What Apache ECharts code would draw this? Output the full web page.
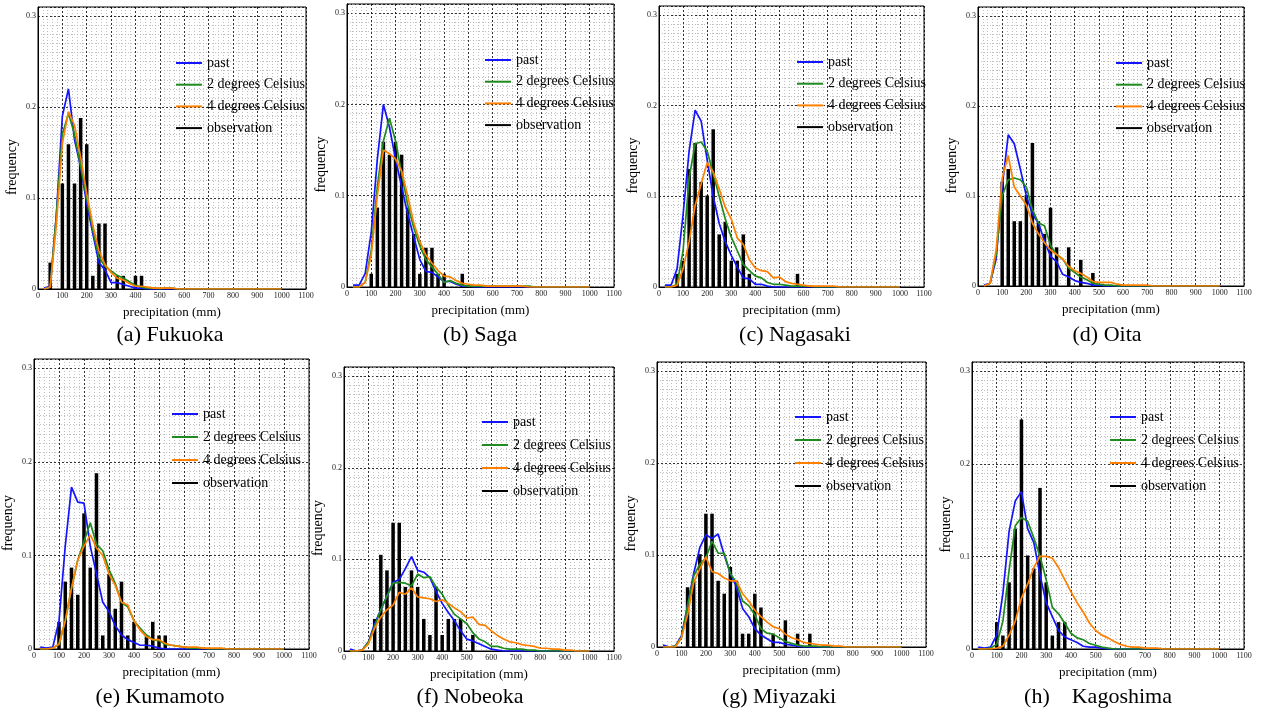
<!DOCTYPE html>
<html>
<head>
<meta charset="utf-8">
<script src="https://cdn.jsdelivr.net/npm/echarts@6/dist/echarts.min.js"></script>
<style>html,body{margin:0;padding:0;background:#fff;}#c{width:1261px;height:711px;}</style>
</head>
<body>
<div id="c"></div>
<script>
// precipitation bin centres (mm)
const BINS = [25,50,75,100,125,150,175,200,
  225,250,275,300,325,350,375,400,
  425,450,475,500,525,550,575,600,
  625,650,675,700,725,750,775,800,
  825,850,875,900,925,950,975,1000];

const panelNames = ['(a) Fukuoka','(b) Saga','(c) Nagasaki','(d) Oita','(e) Kumamoto','(f) Nobeoka','(g) Miyazaki','(h)    Kagoshima'];
const seriesNames = ['past','2 degrees Celsius','4 degrees Celsius','observation'];
const xTicks = [0,100,200,300,400,500,600,700,800,900,1000,1100];
const yTicks = [0,0.1,0.2,0.3];

// ---- (a) Fukuoka
const pastA = [0.001,0.003,0.08,0.19,0.22,0.164,0.134,0.094,
  0.061,0.029,0.021,0.007,0.007,0.005,0.003,0.001,
  0.001,0,0,0,0,0,0,0, 0,0,0,0,0,0,0,0, 0,0,0,0,0,0,0,0];
const deg2A = [0,0.002,0.08,0.17,0.193,0.17,0.135,0.1,
  0.065,0.035,0.025,0.02,0.015,0.012,0.008,0.004,
  0.002,0.001,0.001,0.0005,0.001,0.001,0,0, 0,0,0,0,0,0,0,0, 0,0,0,0,0,0,0,0];
const deg4A = [0,0.002,0.07,0.16,0.195,0.18,0.145,0.105,
  0.07,0.042,0.027,0.018,0.012,0.01,0.006,0.003,
  0.003,0.002,0.001,0.001,0.001,0.001,0,0, 0,0,0,0,0,0,0,0, 0,0,0,0,0,0,0,0];
const obsA = [[50,0.029],[100,0.116],[125,0.159],[150,0.116],[175,0.188],[200,0.159],[225,0.0145],[250,0.072],[275,0.072],[325,0.0145],[350,0.0145],[400,0.0145],[425,0.0145]];

// ---- (b) Saga
const pastB = [0.002,0.002,0.015,0.06,0.14,0.2,0.175,0.14,
  0.11,0.08,0.055,0.03,0.017,0.016,0.011,0.006,
  0.006,0.003,0.001,0.001,0,0,0,0, 0,0,0,0,0,0,0,0, 0,0,0,0,0,0,0,0];
const deg2B = [0,0,0.005,0.04,0.11,0.16,0.185,0.16,
  0.125,0.09,0.065,0.045,0.03,0.022,0.014,0.005,
  0.007,0.004,0.002,0.001,0.001,0.001,0.001,0.001,
  0.001,0.001,0.001,0.001,0.001,0.001,0,0, 0,0,0,0,0,0,0,0];
const deg4B = [0,0,0.005,0.035,0.1,0.15,0.146,0.14,
  0.127,0.1,0.07,0.05,0.035,0.026,0.018,0.012,
  0.011,0.007,0.004,0.003,0.002,0.002,0.001,0.001,
  0.001,0.001,0.001,0.001,0.001,0,0,0, 0,0,0,0,0,0,0,0];
const obsB = [[100,0.0145],[125,0.087],[150,0.159],[175,0.145],[200,0.159],[225,0.145],[250,0.087],[275,0.058],[300,0.0145],[325,0.043],[350,0.043],[375,0.0145],[400,0.0145],[475,0.0145]];

// ---- (c) Nagasaki
const pastC = [0.002,0.002,0.02,0.08,0.15,0.195,0.183,0.14,
  0.1,0.07,0.05,0.035,0.022,0.01,0.009,0.003,
  0.003,0.001,0,0,0,0,0,0, 0,0,0,0,0,0,0,0, 0,0,0,0,0,0,0,0];
const deg2C = [0,0,0.003,0.04,0.12,0.158,0.16,0.15,
  0.125,0.1,0.075,0.055,0.04,0.025,0.018,0.012,
  0.01,0.005,0.003,0.003,0.002,0.001,0.001,0.001,
  0.001,0,0,0,0,0,0,0, 0,0,0,0,0,0,0,0];
const deg4C = [0,0,0.002,0.02,0.05,0.09,0.114,0.137,
  0.127,0.108,0.088,0.075,0.054,0.047,0.03,0.021,
  0.018,0.017,0.01,0.011,0.006,0.004,0.003,0.002,
  0.001,0.001,0.001,0.001,0.001,0,0,0, 0,0,0,0,0,0,0,0];
const obsC = [[75,0.0145],[100,0.029],[125,0.13],[150,0.159],[175,0.116],[200,0.101],[225,0.174],[250,0.058],[275,0.072],[300,0.029],[325,0.029],[350,0.058],[375,0.0145],[575,0.0145]];

// ---- (d) Oita
const pastD = [0.001,0.003,0.03,0.11,0.168,0.158,0.13,0.1,
  0.08,0.07,0.05,0.033,0.027,0.013,0.01,0.006,
  0.004,0.003,0.001,0.001,0,0,0,0, 0,0,0,0,0,0,0,0, 0,0,0,0,0,0,0,0];
const deg2D = [0,0.003,0.035,0.1,0.118,0.12,0.118,0.11,
  0.085,0.07,0.067,0.045,0.035,0.03,0.02,0.015,
  0.01,0.007,0.003,0.002,0.001,0.001,0,0, 0,0,0,0,0,0,0,0, 0,0,0,0,0,0,0,0];
const deg4D = [0,0.003,0.04,0.12,0.145,0.11,0.1,0.09,
  0.07,0.058,0.048,0.04,0.035,0.03,0.022,0.017,
  0.014,0.01,0.005,0.004,0.004,0.004,0.002,0.001,
  0.001,0.001,0.001,0.001,0,0,0,0, 0,0,0,0,0,0,0,0];
const obsD = [[100,0.116],[125,0.13],[150,0.072],[175,0.072],[200,0.101],[225,0.159],[250,0.072],[275,0.058],[300,0.087],[325,0.043],[375,0.043],[425,0.029],[475,0.0145]];

// ---- (e) Kumamoto
const pastE = [0.002,0.001,0.002,0.03,0.11,0.173,0.157,0.156,
  0.11,0.08,0.05,0.04,0.025,0.015,0.01,0.007,
  0.004,0.004,0.003,0.001,0,0,0,0, 0,0,0,0,0,0,0,0, 0,0,0,0,0,0,0,0];
const deg2E = [0,0,0.001,0.005,0.03,0.065,0.095,0.115,
  0.135,0.112,0.105,0.085,0.07,0.05,0.045,0.03,
  0.022,0.015,0.01,0.009,0.005,0.004,0.003,0.002,
  0.001,0.001,0.001,0,0,0,0,0, 0,0,0,0,0,0,0,0];
const deg4E = [0,0,0.001,0.005,0.03,0.065,0.095,0.11,
  0.122,0.108,0.1,0.08,0.068,0.05,0.047,0.03,
  0.02,0.013,0.01,0.01,0.006,0.004,0.003,0.002,
  0.002,0.002,0.001,0.001,0.001,0.001,0,0, 0,0,0,0,0,0,0,0];
const obsE = [[100,0.029],[125,0.072],[150,0.087],[175,0.058],[200,0.145],[225,0.087],[250,0.188],[275,0.0145],[300,0.08],[325,0.043],[350,0.072],[375,0.0145],[400,0.029],[450,0.0145],[475,0.029],[500,0.0145],[525,0.0145]];

// ---- (f) Nobeoka
const pastF = [0.002,0,0.001,0.01,0.03,0.045,0.06,0.075,
  0.078,0.09,0.103,0.088,0.086,0.08,0.065,0.052,
  0.042,0.033,0.022,0.013,0.011,0.008,0.005,0.002,
  0.001,0,0,0,0,0,0,0, 0,0,0,0,0,0,0,0];
const deg2F = [0,0,0.001,0.01,0.027,0.045,0.06,0.074,
  0.075,0.074,0.071,0.084,0.08,0.081,0.07,0.062,
  0.05,0.04,0.035,0.03,0.02,0.013,0.01,0.005,
  0.005,0.003,0.002,0.002,0.002,0.001,0.001,0, 0,0,0,0,0,0,0,0];
const deg4F = [0,0,0.001,0.008,0.025,0.037,0.045,0.05,
  0.064,0.062,0.069,0.059,0.058,0.057,0.054,0.056,
  0.052,0.047,0.043,0.036,0.037,0.029,0.028,0.022,
  0.017,0.013,0.01,0.009,0.007,0.006,0.005,0.003,
  0.003,0.002,0.002,0.001,0.001,0,0,0];
const obsF = [[125,0.035],[150,0.105],[175,0.088],[200,0.14],[225,0.14],[250,0.07],[275,0.088],[300,0.07],[325,0.035],[350,0.0175],[375,0.07],[400,0.0175],[425,0.035],[450,0.035],[475,0.035],[525,0.0175]];

// ---- (g) Miyazaki
const pastG = [0.002,0,0.001,0.012,0.045,0.08,0.108,0.122,
  0.118,0.123,0.1,0.08,0.065,0.042,0.033,0.02,
  0.013,0.009,0.005,0.005,0.003,0.002,0.001,0,
  0,0,0,0,0,0,0,0, 0,0,0,0,0,0,0,0];
const deg2G = [0,0,0.001,0.01,0.045,0.077,0.09,0.097,
  0.115,0.102,0.102,0.08,0.07,0.05,0.045,0.035,
  0.02,0.015,0.014,0.01,0.006,0.004,0.002,0.001,
  0.001,0.001,0,0,0,0,0,0, 0,0,0,0,0,0,0,0];
const deg4G = [0,0,0,0.01,0.035,0.07,0.085,0.098,
  0.082,0.08,0.075,0.072,0.072,0.058,0.05,0.04,
  0.033,0.027,0.022,0.02,0.014,0.01,0.008,0.005,
  0.004,0.003,0.002,0.002,0.001,0.001,0,0, 0,0,0,0,0,0,0,0];
const obsG = [[125,0.065],[150,0.072],[175,0.101],[200,0.145],[225,0.145],[250,0.072],[275,0.058],[300,0.087],[325,0.072],[350,0.0145],[375,0.0145],[400,0.058],[425,0.043],[475,0.0145],[525,0.029],[575,0.0145],[625,0.0145]];

// ---- (h) Kagoshima
const pastH = [0.002,0.001,0.002,0.015,0.06,0.127,0.16,0.17,
  0.13,0.115,0.08,0.05,0.035,0.02,0.013,0.01,
  0.007,0.003,0.002,0.002,0.001,0,0,0, 0,0,0,0,0,0,0,0, 0,0,0,0,0,0,0,0];
const deg2H = [0,0,0.001,0.005,0.03,0.085,0.133,0.142,
  0.138,0.12,0.1,0.075,0.045,0.038,0.028,0.017,
  0.012,0.01,0.006,0.004,0.002,0.001,0,0, 0,0,0,0,0,0,0,0, 0,0,0,0,0,0,0,0];
const deg4H = [0,0,0,0.001,0.003,0.015,0.03,0.055,
  0.07,0.088,0.1,0.1,0.098,0.088,0.075,0.062,
  0.05,0.04,0.028,0.02,0.015,0.012,0.008,0.005,
  0.003,0.002,0.002,0.001,0.001,0.001,0,0, 0,0,0,0,0,0,0,0];
const obsH = [[100,0.029],[125,0.0145],[150,0.072],[175,0.13],[200,0.248],[225,0.101],[250,0.087],[275,0.174],[300,0.072],[325,0.0145],[350,0.029],[375,0.029]];

const pastAll = [pastA,pastB,pastC,pastD,pastE,pastF,pastG,pastH];
const deg2All = [deg2A,deg2B,deg2C,deg2D,deg2E,deg2F,deg2G,deg2H];
const deg4All = [deg4A,deg4B,deg4C,deg4D,deg4E,deg4F,deg4G,deg4H];
const obsAll  = [obsA,obsB,obsC,obsD,obsE,obsF,obsG,obsH];

// ---- layout (pixels)
const boxes = [
  {l:38,t:7,w:268,h:282},{l:347,t:4,w:267,h:283},{l:659,t:6,w:265,h:281},{l:978,t:7,w:266,h:279},
  {l:34,t:359,w:275,h:290},{l:344,t:367,w:270,h:284},{l:657,t:362,w:269,h:285},{l:972,t:362,w:272,h:287}
];
const captionPos = [[170,335],[480,335],[795,335],[1107,335],[160,697],[470,697],[779,697],[1098,697]];
const FONT = '"Liberation Serif","Times New Roman",serif';
const COLORS = ['#1414ff','#1f8a1f','#ff8000','#000000'];

const grid=[],xAxis=[],yAxis=[],series=[],legend=[],graphic=[];
boxes.forEach((b,i)=>{
  grid.push({left:b.l,top:b.t,width:b.w,height:b.h,show:true,borderColor:'#000',borderWidth:1,backgroundColor:'#fff'});
  xAxis.push({type:'value',gridIndex:i,min:xTicks[0],max:xTicks[xTicks.length-1],interval:100,
    axisLine:{show:true,onZero:false,lineStyle:{color:'#000',width:1}},axisTick:{show:false},
    axisLabel:{fontFamily:FONT,fontSize:8,color:'#222',margin:3,showMaxLabel:true,
      formatter:v=>String(Math.round(v))},
    splitLine:{show:true,lineStyle:{color:'#000',type:[2,2],width:0.8}},
    minorTick:{show:false,splitNumber:5},
    minorSplitLine:{show:true,lineStyle:{color:'#b0b0b0',type:[1,2],width:0.8}},
    name:'precipitation (mm)',nameLocation:'middle',nameGap:17,
    nameTextStyle:{fontFamily:FONT,fontSize:13,color:'#000'}});
  yAxis.push({type:'value',gridIndex:i,min:0,max:0.31,interval:0.1,
    axisLine:{show:true,lineStyle:{color:'#000',width:1}},axisTick:{show:false},
    axisLabel:{fontFamily:FONT,fontSize:8,color:'#222',margin:2,showMaxLabel:false,
      formatter:v=>yTicks.indexOf(Math.round(v*10)/10)>=0 && Math.abs(v*10-Math.round(v*10))<1e-6 ? String(Math.round(v*10)/10) : ''},
    splitLine:{show:true,lineStyle:{color:'#000',type:[2,2],width:0.8}},
    minorTick:{show:false,splitNumber:10},
    minorSplitLine:{show:true,lineStyle:{color:'#b0b0b0',type:[1,2],width:0.8}},
    name:'frequency',nameLocation:'middle',nameGap:19,nameRotate:90,
    nameTextStyle:{fontFamily:FONT,fontSize:14,color:'#000',padding:[0,38,0,0]}});
  series.push({name:seriesNames[3],type:'bar',xAxisIndex:i,yAxisIndex:i,data:obsAll[i],barWidth:3.5,
    itemStyle:{color:COLORS[3]},z:2,silent:true,animation:false});
  [pastAll,deg2All,deg4All].forEach((arr,k)=>{
    series.push({name:seriesNames[k],type:'line',xAxisIndex:i,yAxisIndex:i,
      data:BINS.map((x,j)=>[x,arr[i][j]]),showSymbol:false,symbol:'none',
      lineStyle:{color:COLORS[k],width:1.7},itemStyle:{color:COLORS[k]},z:3+k,silent:true,animation:false});
  });
  legend.push({show:true,orient:'vertical',left:b.l+133,top:b.t+(i<4?43:42),
    data:seriesNames,icon:'rect',itemWidth:26,itemHeight:2,itemGap:(i<4?5.7:7),
    textStyle:{fontFamily:FONT,fontSize:14,color:'#000',lineHeight:16},selectedMode:false});
  graphic.push({type:'text',x:captionPos[i][0],y:captionPos[i][1],
    style:{text:panelNames[i],fontFamily:FONT,fontSize:22,fill:'#000',align:'center',verticalAlign:'middle'}});
});

const chart = echarts.init(document.getElementById('c'),null,{renderer:'canvas'});
chart.setOption({backgroundColor:'#fff',animation:false,grid,xAxis,yAxis,series,legend,graphic});
</script>
</body>
</html>
